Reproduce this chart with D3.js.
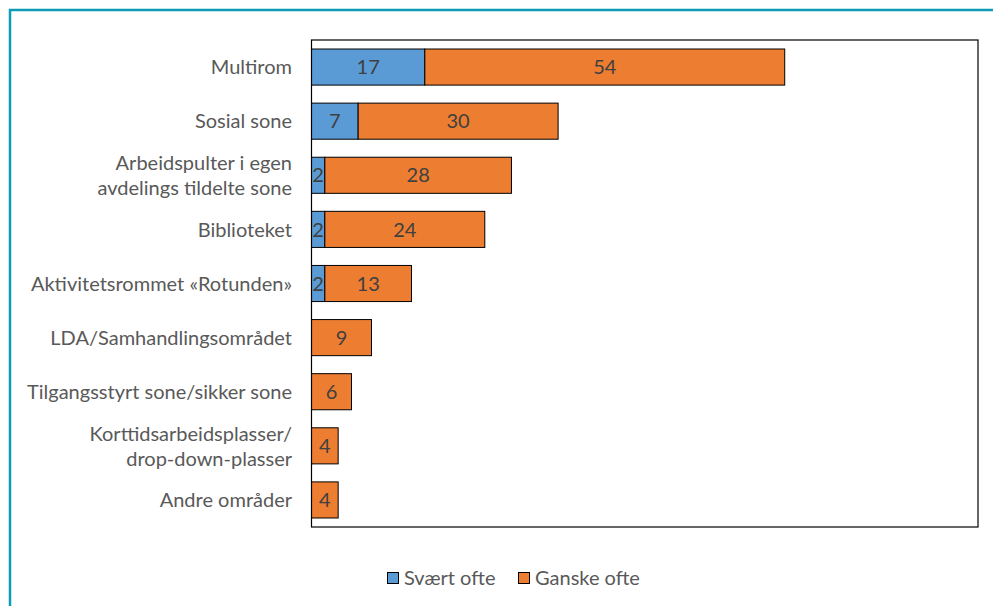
<!DOCTYPE html>
<html><head><meta charset="utf-8">
<script src="https://cdn.jsdelivr.net/npm/d3@7"></script>
<style>body{margin:0;background:#fff}svg{display:block}</style>
</head><body>
<svg id="c" width="993" height="606"></svg>
<script>
const categories = [
  ["Multirom"],
  ["Sosial sone"],
  ["Arbeidspulter i egen", "avdelings tildelte sone"],
  ["Biblioteket"],
  ["Aktivitetsrommet «Rotunden»"],
  ["LDA/Samhandlingsområdet"],
  ["Tilgangsstyrt sone/sikker sone"],
  ["Korttidsarbeidsplasser/", "drop-down-plasser"],
  ["Andre områder"]
];
const seriesNames = ["Svært ofte", "Ganske ofte"];
const svaertOfte = [17, 7, 2, 2, 2, 0, 0, 0, 0];
const ganskeOfte = [54, 30, 28, 24, 13, 9, 6, 4, 4];
const colors = ["#5b9bd5", "#ed7d31"];

const svg = d3.select("#c");
const font = "Lato, 'Open Sans', sans-serif";
const fs = 20;

// outer frame
svg.append("rect").attr("x", 10).attr("y", 10).attr("width", 1000).attr("height", 700)
  .attr("fill", "none").attr("stroke", "#0e9bb8").attr("stroke-width", 2.5);

const L = 311.5, R = 978, T = 40, B = 527;
const x = d3.scaleLinear().domain([0, 100]).range([L, R]);
const y = d3.scaleBand().domain(d3.range(categories.length)).range([T, B]).paddingInner(0.333).paddingOuter(0.1665);

const rows = categories.map((c, i) => ({i, vals: [svaertOfte[i], ganskeOfte[i]]}));
const stack = d3.stack().keys([0, 1]).value((d, k) => d.vals[k])(rows);

const g = svg.append("g");
stack.forEach((layer, k) => {
  layer.forEach((d, i) => {
    const v = d[1] - d[0];
    if (v <= 0) return;
    g.append("rect")
      .attr("x", x(d[0])).attr("y", y(i))
      .attr("width", x(d[1]) - x(d[0])).attr("height", y.bandwidth())
      .attr("fill", colors[k]).attr("stroke", "#000").attr("stroke-width", 1);
    g.append("text")
      .attr("x", (x(d[0]) + x(d[1])) / 2).attr("y", y(i) + y.bandwidth() / 2)
      .attr("dy", "0.36em").attr("text-anchor", "middle")
      .attr("font-family", font).attr("font-size", fs).attr("fill", "#404040")
      .text(v);
  });
});

// plot frame
svg.append("rect").attr("x", L).attr("y", T).attr("width", R - L).attr("height", B - T)
  .attr("fill", "none").attr("stroke", "#000").attr("stroke-width", 1.2);

// category labels
categories.forEach((lines, i) => {
  const cy = y(i) + y.bandwidth() / 2;
  const t = svg.append("text").attr("text-anchor", "end")
    .attr("font-family", font).attr("font-size", fs).attr("fill", "#595959");
  lines.forEach((ln, j) => {
    t.append("tspan").attr("x", 292)
      .attr("y", cy + (j - (lines.length - 1) / 2) * 25)
      .attr("dy", "0.36em").text(ln);
  });
});

// legend
const legX = [387, 518];
seriesNames.forEach((n, k) => {
  svg.append("rect").attr("x", legX[k] + 0.5).attr("y", 572.5).attr("width", 11).attr("height", 11)
    .attr("fill", colors[k]).attr("stroke", "#000").attr("stroke-width", 1);
  svg.append("text").attr("x", legX[k] + 17).attr("y", 578).attr("dy", "0.36em")
    .attr("font-family", font).attr("font-size", fs).attr("fill", "#595959").text(n);
});
</script>
</body></html>
